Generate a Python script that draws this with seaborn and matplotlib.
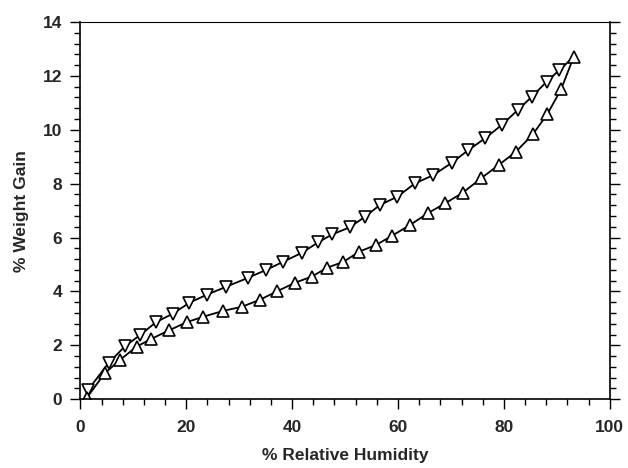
import numpy as np
import pandas as pd
import matplotlib
matplotlib.use("Agg")
import matplotlib.pyplot as plt
from matplotlib.ticker import MultipleLocator
import seaborn as sns

# ── Data ──────────────────────────────────────────────────
sorption_rh = [1.2, 4.6, 7.5, 10.6, 13.3, 16.7, 20.1, 23.2, 27.0, 30.5,
               33.9, 37.1, 40.5, 43.7, 46.6, 49.7, 52.7, 55.9, 58.8, 62.3,
               65.6, 68.9, 72.2, 75.7, 79.0, 82.3, 85.5, 88.2, 90.8, 93.2]
sorption_wg = [0.05, 0.96, 1.46, 1.95, 2.23, 2.55, 2.86, 3.06, 3.28, 3.43,
               3.69, 4.00, 4.32, 4.55, 4.88, 5.10, 5.48, 5.73, 6.06, 6.47,
               6.90, 7.27, 7.66, 8.20, 8.69, 9.19, 9.84, 10.58, 11.50, 12.71]

desorption_rh = [1.5, 5.4, 8.4, 11.2, 14.3, 17.5, 20.6, 23.9, 27.5, 31.6,
                 35.1, 38.3, 41.8, 44.9, 47.6, 50.9, 53.8, 56.6, 59.9, 63.2,
                 66.7, 70.2, 73.3, 76.5, 79.6, 82.6, 85.3, 88.1, 90.5, 93.2]
desorption_wg = [0.36, 1.36, 1.96, 2.37, 2.86, 3.18, 3.58, 3.88, 4.17, 4.50,
                 4.80, 5.10, 5.43, 5.82, 6.12, 6.38, 6.78, 7.21, 7.52, 8.01,
                 8.32, 8.78, 9.25, 9.69, 10.18, 10.73, 11.23, 11.79, 12.22, 12.71]

sorp = pd.DataFrame({"rh": sorption_rh, "wg": sorption_wg})
desorp = pd.DataFrame({"rh": desorption_rh, "wg": desorption_wg})

# ── Style ─────────────────────────────────────────────────
sns.set_theme(style="ticks")
plt.rcParams["font.family"] = ["Liberation Sans", "DejaVu Sans"]

fig = plt.figure(figsize=(6.28, 4.68), dpi=100)
ax = fig.add_axes([0.128, 0.147, 0.843, 0.806])

mk = dict(markersize=9, markerfacecolor="white", markeredgecolor="black",
          markeredgewidth=1.2, linewidth=1.3, color="black")

# desorption first; its last point is covered by the shared sorption marker
sns.lineplot(data=desorp, x="rh", y="wg", sort=False, ax=ax, marker="v",
             markevery=list(range(len(desorp) - 1)), **mk)
sns.lineplot(data=sorp, x="rh", y="wg", sort=False, ax=ax, marker="^", **mk)

ax.set_xlim(0, 100)
ax.set_ylim(0, 14)
ax.xaxis.set_major_locator(MultipleLocator(20))
ax.xaxis.set_minor_locator(MultipleLocator(4))
ax.yaxis.set_major_locator(MultipleLocator(2))
ax.yaxis.set_minor_locator(MultipleLocator(0.4))

ax.tick_params(which="both", direction="out", color="black", width=1,
               right=True, top=False, labelsize=12.5)
ax.tick_params(axis="x", pad=8)
ax.tick_params(axis="y", pad=6)
ax.tick_params(which="major", length=7)
ax.tick_params(which="minor", length=4)
for lab in ax.get_xticklabels() + ax.get_yticklabels():
    lab.set_fontweight("bold")

for side in ["left", "right", "bottom", "top"]:
    ax.spines[side].set_visible(True)
    ax.spines[side].set_color("black")
    ax.spines[side].set_linewidth(1.2)
ax.spines["top"].set_linewidth(0.8)

ax.set_xlabel("% Relative Humidity", fontsize=12.5, fontweight="bold", labelpad=9)
ax.set_ylabel("% Weight Gain", fontsize=12.5, fontweight="bold", labelpad=10)

fig.savefig("out.png", dpi=100)
